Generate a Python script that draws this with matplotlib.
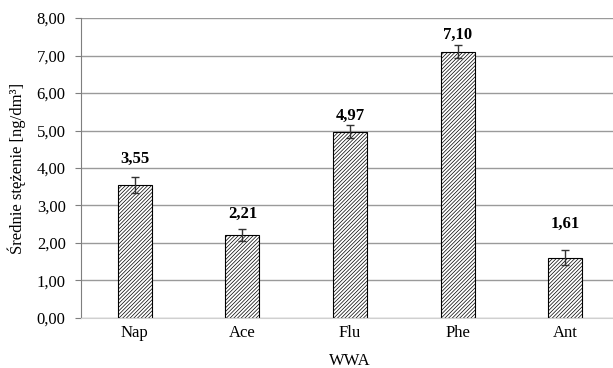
import numpy as np
import matplotlib
matplotlib.use("Agg")
import matplotlib.pyplot as plt

plt.rcParams.update({"font.family": ["Liberation Serif", "DejaVu Serif"], "font.size": 12,
                     "hatch.linewidth": 0.5, "hatch.color": "#444444"})

categories = ["Nap", "Ace", "Flu", "Phe", "Ant"]
means = [3.55, 2.21, 4.97, 7.10, 1.61]
errors = [0.22, 0.15, 0.18, 0.17, 0.20]

# value label offsets above bar top (points), as placed in the original
label_dy = [19, 15, 11, 12, 24]

fig = plt.figure(figsize=(6.13, 3.68), dpi=100)
ax = fig.add_axes([0.132, 0.136, 0.878, 0.815])

x = np.arange(len(categories))
ax.bar(x, means, width=0.316, color="white", edgecolor="black", linewidth=0.8,
       hatch="/////////", zorder=2)
ax.errorbar(x, means, yerr=errors, fmt="none", ecolor="#333333", elinewidth=1,
            capsize=3, capthick=1, zorder=3)
for xi, m, dy in zip(x, means, label_dy):
    ax.annotate(f"{m:.2f}".replace(".", ","), (xi, m), xytext=(0, dy),
                textcoords="offset points", ha="center", va="center",
                fontweight="bold", fontsize=12)

ax.set_xlim(-0.5, len(categories) - 0.5)
ax.set_ylim(0, 8)
ax.set_yticks(np.arange(0, 8.01, 1))
ax.set_yticklabels([f"{v:.2f}".replace(".", ",") for v in np.arange(0, 8.01, 1)])
ax.set_xticks(x)
ax.set_xticklabels(categories)
ax.grid(axis="y", color="#9a9a9a", linewidth=1, zorder=0)
ax.set_axisbelow(True)
for s in ["top", "right"]:
    ax.spines[s].set_visible(False)
ax.spines["left"].set_color("#7f7f7f")
ax.spines["bottom"].set_color("#d0d0d0")
ax.tick_params(axis="y", length=4, color="#7f7f7f", labelsize=12, pad=7)
ax.tick_params(axis="x", length=0, labelsize=12, pad=5)
ax.set_ylabel("Średnie stężenie [ng/dm³]", fontsize=12, labelpad=8)
ax.set_xlabel("WWA", fontsize=12, labelpad=9)

fig.savefig("out.png", dpi=100)
